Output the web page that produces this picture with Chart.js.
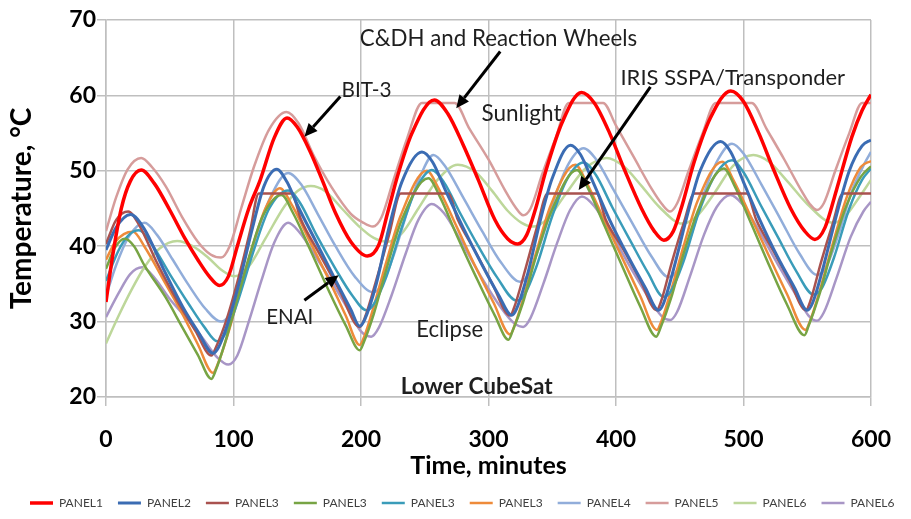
<!DOCTYPE html>
<html>
<head>
<meta charset="utf-8">
<script src="https://cdn.jsdelivr.net/npm/chart.js@4.4.1/dist/chart.umd.min.js"></script>
<style>
  html, body { margin: 0; padding: 0; background: #ffffff; }
  #wrap { width: 911px; height: 519px; }
</style>
</head>
<body>
<div id="wrap"><canvas id="chart" width="911" height="519"></canvas></div>
<script>
// Panel temperatures (°C) of the lower CubeSat over five orbits, time in minutes.
const panel1Time = [0,5,12,19,27.6,38,50,62,72,81,89,96,103,112,121,132,142,150,160,170,180,192,205,214,221,229,240,257.5,268,280,292,305,315,323,330,337,345,358,373,383,395,407,420,430,437.5,445,452,461,474,490,500,512,524,537,548,556,564,573,585,593,600];
const panel1Temp = [32.6,38.5,45,48.6,50.1,48.3,44.8,41,38.2,36,34.8,36,40,45,48.8,54.4,57.0,55.8,52.6,48.6,44.4,40.6,38.7,40.2,44.5,49.5,55,59.4,57.6,53.5,48.8,43.5,41,40.3,41.5,45,50,56.5,60.4,59,55,50,45,42,40.8,42,45.5,51,57,60.6,59.2,55,50,45,42,40.9,42.5,47.5,54.5,58,60.1];

const panel2Time = [0,8,19.2,30,45,60,72,84,88,95,105,115,124,133.9,142,150,165,180,192,199,203,212,222,232,247.8,256,266,280,295,308,318.2,322,331,340,350,364.3,372,382,395,410,423,433.4,437,446,455,466,482,490,500,512,527,540,550,554,563,572,583,593,600];
const panel2Temp = [39.5,42.5,44.2,42.3,37,32,28.7,25.8,26.5,29.5,35.5,42.5,48,50.2,48.5,45.5,40.5,35.5,31.6,29.4,30.3,35,42.5,48.5,52.5,51.2,47.5,42.5,37.5,33.5,30.85,31.7,36.5,43,49,53.4,52.2,48.5,43.5,38.5,34.5,31.5,32.3,37.5,43.5,50,53.9,52.5,48.5,43.8,38.5,34.5,31.5,32.4,37.5,43.5,50,53.3,54.1];

const panel3aTime = [0,8,17.4,26,40,55,70,82.7,86,95,105,113,119.8,145.4,153,167,183,199,203,212,222,231.2,268.3,276,290,303,317,320,329,338,346.4,384.8,392,406,419,432,435,444,453,461.6,502.5,510,523,536,549,552,561,570,578,600];
const panel3aTemp = [40.3,43.5,44.6,42.8,37.8,33,28.8,25.5,26.5,30.5,36.5,42,47,47,43.5,39.1,34.2,29.3,30.5,35.5,41.5,47,47,43.5,39.2,35,30.8,31.8,37,42.5,47,47,43.5,39.5,35.5,31.5,32.5,38,43,47,47,43.5,39.5,35.5,31.5,32.5,38,43,47,47];

const panel3bTime = [0,7,14.8,22,30,46.8,60,72,82.7,86,93,103,113,123,137.7,146.7,160,175,188,199,202.5,210,220,232,252.9,262,275,290,305,315.7,319,327,337,349,369.4,378,391,405,419,431.6,435,443,453,465,484.6,493,506,520,534,547.8,551,559,569,581,592,600];
const panel3bTemp = [37,39.8,41,40,37.5,33.2,29.2,25.6,22.4,23.5,27,33,39,44,46.8,44.4,39.6,34,29.5,26.2,27.4,31,37,43.5,49,46.5,41.5,36,30.8,27.6,28.8,32.5,38.5,44.5,50.1,47.7,42.7,37.3,32,28,29.2,33,39,45,50.3,48,43,37.5,32.3,28.2,29.4,33.3,39.3,45.5,49.2,50.6];

const panel3cTime = [0,10,18,25.8,35,50,65,77,87.3,94,103,115,128,142.9,152,165,180,193,204.3,210,220,232,243,255.5,265,278,292,307,322,328,338,350,362,374.5,384,397,411,425,437.3,443,453,465,478,491,500,513,527,541,555,561,571,583,593,600];
const panel3cTemp = [35.4,39.5,41.5,42.1,40.5,36.3,32.3,29.3,27.4,28.5,32.5,39,45,47.4,45.8,41.5,37,33.5,31.5,32.3,36,42.5,47.5,50.1,48.5,44.3,40,35.8,32.8,33.5,37.5,44,49,51.1,49.5,45.2,40.8,36.5,33.3,34,38,44.5,49.5,51.4,49.8,45.6,41.2,36.8,33.6,34.3,38.5,45,48.8,50.3];

const panel3dTime = [0,7,14,21.2,30,46.8,60,72,84,87.5,95,105,115,125,136.4,146,160,175,188,199,202.5,210,220,231,251.6,261,275,290,304,316.9,320.5,328,338,349,368.1,377,391,405,419,432.1,435.5,443,453,464,483.3,492,506,520,534,548.6,552,560,570,581,592,600];
const panel3dTemp = [38.2,40.5,41.6,41.9,40,35,31,27,23.2,24.3,28,34,40,45,47.7,45.4,40.6,35.5,30.8,26.9,28,32,38,44,50,47.6,42.6,37.2,32.5,28.3,29.5,33.5,39.5,45.5,50.8,48.4,43.4,38.4,33.4,28.9,30,34,40,46,51.2,48.8,43.8,38.7,33.7,28.9,30,34.2,40.3,46.5,50.5,51.3];

const panel4Time = [0,8,18,30.2,40,52,65,78,90.3,97,106,117,129,142.9,153,166,180,195,209.4,216,226,238,247,256.8,266,280,295,310,324.6,331,341,352,363,374.5,384,398,413,428,441.1,448,458,469,480,491,500,514,529,544,557.6,564,574,585,595,600];
const panel4Temp = [33.4,37.5,41.3,43.1,41.5,38.3,34.8,31.7,30,31,35,41,46.5,49.7,48.2,44.3,40,36,33.9,34.8,39,45.5,49.5,52.1,50.6,46.5,42,37.8,35.3,36.2,40.5,46.5,51,53,51.6,47.5,43,38.6,35.9,36.8,41,47,51.5,53.6,52.3,48.2,43.6,39,36.2,37,41.3,47.3,51,52.5];

const panel5Time = [0,8,17,27.6,36,47,59.6,72,82,90.3,97,106,116,128,141.6,151,163,177,192,201,209.4,216,225,236,247.8,273.4,285,300,313,321,327.2,333,342,353,363,389.9,400,414,428,436,442.4,448,457,468,478.2,506.4,518,532,546,552,557.6,563,572,583,593,600];
const panel5Temp = [42,46.5,50.2,51.7,50.5,47.9,43.9,40.6,38.9,38.5,40,45,50.5,55.5,57.8,56.3,52,47.8,44.3,43.2,42.6,43.8,48.5,54.2,59,59,55.6,51.5,47.4,45.2,44.1,45,49.5,54.5,59,59,56,51.8,47.6,45.6,44.6,45.7,50,55,59,59,55.6,51.5,47.2,45.6,44.8,45.7,50,55,59,59];

const panel6aTime = [0,10,20,30.5,42,55.8,68,80,91,101,112,125,140,150,160.7,172,185,198,210,220.9,232,245,260,276,290,303,315,326,335,346,360,376,392.5,406,420,434,452,463,477,492,507.7,520,535,550,570.4,580,590,600];
const panel6aTemp = [27.1,30.8,34.2,37.3,39.7,40.7,40,38.5,36.8,36,37.3,41,45.3,47.3,48,47.3,45,42.7,41.1,40.6,41.7,45,48.8,50.8,49.8,47.3,44.7,43.1,42.6,43.6,46.8,50.3,51.7,50.6,48,45.2,43,43.9,47,50.7,52.1,51.2,48.5,45.6,43.1,44,46.3,48.8];

const panel6bTime = [0,10,19,28.4,38,50,62,75,87,96,103,112,122,132,142.9,152,165,178,192,200,208,214,224,235,245,255.5,265,279,294,310,320,327.2,333,343,354,364,373.3,383,397,412,427,436,442.4,448,458,469,479,489.7,499,513,528,543,551,557.6,563,573,584,594,600];
const panel6bTemp = [30.6,33.8,36.3,37.2,35.8,33,30.7,28,25.3,24.3,25.5,30,35.5,40.5,43.1,41.8,38.5,35,31,28.7,28,29.2,33.5,39,43.5,45.6,44.4,40.5,36,31.8,29.8,29.3,30.5,35,40.5,44.8,46.6,45.3,41.5,37,32.8,30.7,30.2,31.3,36,41.5,45.2,46.8,45.6,41.8,37.3,33,30.8,30.1,31.2,35.8,41.2,44.6,45.9];

const timeTicks = [0, 100, 200, 300, 400, 500, 600];
const tempTicks = [20, 30, 40, 50, 60, 70];

// label, times, temperatures, colour, line width
const seriesDefs = [
  ['PANEL1', panel1Time,  panel1Temp,  '#FF0000', 3.5],
  ['PANEL2', panel2Time,  panel2Temp,  '#3B6CB3', 3],
  ['PANEL3', panel3aTime, panel3aTemp, '#A9524F', 2.5],
  ['PANEL3', panel3bTime, panel3bTemp, '#77A444', 2.5],
  ['PANEL3', panel3cTime, panel3cTemp, '#3A9CB9', 2.5],
  ['PANEL3', panel3dTime, panel3dTemp, '#EE8B3A', 2.5],
  ['PANEL4', panel4Time,  panel4Temp,  '#91ADDA', 2.5],
  ['PANEL5', panel5Time,  panel5Temp,  '#D69C9B', 2.5],
  ['PANEL6', panel6aTime, panel6aTemp, '#BDD79A', 2.5],
  ['PANEL6', panel6bTime, panel6bTemp, '#A896C6', 2.5]
];

const datasets = seriesDefs.map(([label, times, temps, color, width]) => ({
  label,
  data: times.map((t, i) => ({ x: t, y: temps[i] })),
  borderColor: color,
  backgroundColor: color,
  borderWidth: width,
  pointRadius: 0,
  pointHoverRadius: 0,
  fill: false,
  cubicInterpolationMode: 'monotone'
}));

// Text notes and arrows placed in data coordinates (minutes, °C).
const notes = [
  { text: 'C&DH and Reaction Wheels', x: 307.8, y: 66.57, width: 277, bold: false },
  { text: 'BIT-3',                    x: 204.3, y: 59.84, width: 50,  bold: false },
  { text: 'Sunlight',                 x: 325.9, y: 56.65, width: 80,  bold: false },
  { text: 'IRIS SSPA/Transponder',    x: 491.6, y: 61.39, width: 225, bold: false },
  { text: 'ENAI',                     x: 144.1, y: 29.65, width: 47,  bold: false },
  { text: 'Eclipse',                  x: 269.6, y: 27.97, width: 67,  bold: false },
  { text: 'Lower CubeSat',            x: 290.7, y: 20.45, width: 152, bold: true }
];
const arrows = [
  { from: [309.2, 65.82], to: [274.7, 58.30] },
  { from: [183.8, 59.84], to: [155.6, 54.53] },
  { from: [427.0, 61.13], to: [370.7, 47.45] },
  { from: [155.6, 32.84], to: [182.5, 36.16] }
];

const calloutPlugin = {
  id: 'callouts',
  afterDatasetsDraw(chart) {
    const { ctx, scales: { x, y } } = chart;
    ctx.save();
    ctx.fillStyle = '#1F1F1F';
    ctx.textAlign = 'center';
    ctx.textBaseline = 'alphabetic';
    notes.forEach(n => {
      const weight = n.bold ? 'bold ' : '';
      ctx.font = weight + '20px Lato';
      const size = 20 * n.width / ctx.measureText(n.text).width;
      ctx.font = weight + size.toFixed(1) + 'px Lato';
      ctx.fillText(n.text, x.getPixelForValue(n.x), y.getPixelForValue(n.y));
    });
    ctx.strokeStyle = '#000000';
    ctx.fillStyle = '#000000';
    ctx.lineWidth = 3;
    arrows.forEach(a => {
      const x0 = x.getPixelForValue(a.from[0]), y0 = y.getPixelForValue(a.from[1]);
      const x1 = x.getPixelForValue(a.to[0]),   y1 = y.getPixelForValue(a.to[1]);
      const ang = Math.atan2(y1 - y0, x1 - x0);
      const head = 13, half = 6;
      const bx = x1 - Math.cos(ang) * head, by = y1 - Math.sin(ang) * head;
      ctx.beginPath();
      ctx.moveTo(x0, y0);
      ctx.lineTo(bx, by);
      ctx.stroke();
      ctx.beginPath();
      ctx.moveTo(x1, y1);
      ctx.lineTo(bx + Math.sin(ang) * half, by - Math.cos(ang) * half);
      ctx.lineTo(bx - Math.sin(ang) * half, by + Math.cos(ang) * half);
      ctx.closePath();
      ctx.fill();
    });
    ctx.restore();
  }
};

const gridStyle = { color: '#BFBFBF', lineWidth: 1.5, tickLength: 9 };
const tickFont = { family: 'Lato', size: 23, weight: 'bold' };
const titleFont = { family: 'Lato', size: 25, weight: 'bold' };

new Chart(document.getElementById('chart'), {
  type: 'line',
  data: { datasets },
  options: {
    responsive: false,
    animation: false,
    events: [],
    layout: { padding: { top: 20, right: 0, bottom: 0, left: 15 } },
    plugins: {
      legend: {
        position: 'bottom',
        align: 'start',
        labels: {
          usePointStyle: true,
          pointStyle: 'line',
          pointStyleWidth: 23,
          padding: 15,
          color: '#404040',
          font: { family: 'Lato', size: 12 }
        }
      },
      tooltip: { enabled: false }
    },
    scales: {
      x: {
        type: 'linear',
        min: timeTicks[0],
        max: timeTicks[timeTicks.length - 1],
        afterBuildTicks(scale) { scale.ticks = timeTicks.map(v => ({ value: v })); },
        ticks: { padding: 20, color: '#000000', font: tickFont },
        grid: gridStyle,
        border: { color: '#BFBFBF', width: 1.5 },
        title: { display: true, text: 'Time, minutes', color: '#000000', font: titleFont, padding: { top: 0, bottom: 1 } },
        afterFit(scale) { scale.height = 85; }
      },
      y: {
        type: 'linear',
        min: tempTicks[0],
        max: tempTicks[tempTicks.length - 1],
        afterBuildTicks(scale) { scale.ticks = tempTicks.map(v => ({ value: v })); },
        ticks: { padding: 1, color: '#000000', font: tickFont },
        grid: gridStyle,
        border: { color: '#BFBFBF', width: 1.5 },
        title: { display: true, text: 'Temperature, °C', color: '#000000', font: { family: 'Lato', size: 28, weight: 'bold' }, padding: { top: -10, bottom: 0 } },
        afterFit(scale) { scale.width = 91; }
      },
      // empty margin on the right of the plot
      yRight: {
        type: 'linear',
        position: 'right',
        display: true,
        min: 20,
        max: 70,
        ticks: { display: false },
        grid: { display: false },
        border: { display: false },
        afterFit(scale) { scale.width = 24; }
      }
    }
  },
  plugins: [calloutPlugin]
});
</script>
</body>
</html>
